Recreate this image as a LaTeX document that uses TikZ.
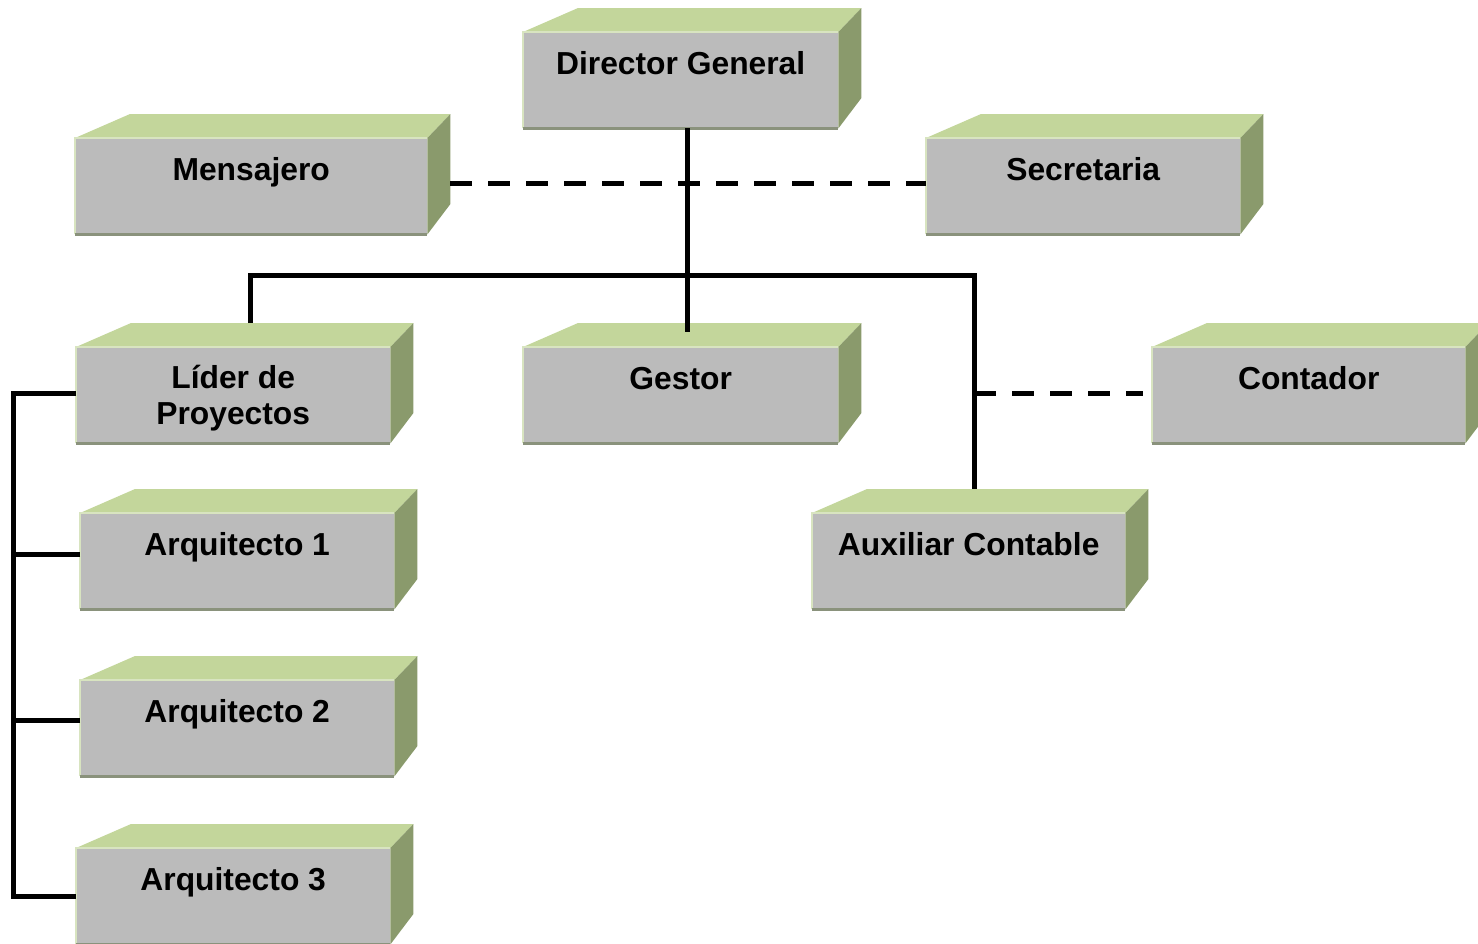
\documentclass[tikz,border=0pt]{standalone}
\usepackage{fontspec}
\setmainfont{Liberation Sans}
\usetikzlibrary{calc}

\definecolor{frontgray}{RGB}{187,187,187}
\definecolor{topgreen}{RGB}{195,214,155}
\definecolor{sideolive}{RGB}{138,154,108}
\definecolor{edgelight}{RGB}{216,228,192}
\definecolor{edgedark}{RGB}{138,146,124}

\tikzset{
  front/.style={rectangle, fill=frontgray, draw=none, inner sep=0pt, minimum height=96pt},
  topface/.style={fill=topgreen},
  sideface/.style={fill=sideolive},
  hiedge/.style={draw=edgelight, line width=1.5pt},
  loedge/.style={draw=edgedark, line width=2.5pt},
  lbl/.style={font=\bfseries\fontsize{31.8}{36}\selectfont, align=center, inner sep=0pt},
  conn/.style={line width=5pt, black},
  dashconn/.style={conn, dash pattern=on 22pt off 16pt}
}

% \orgbox[baseline drop of last text line]{name}{x}{y}{width}{text}:
% a 3D block whose front face has its top left corner at (x,y)
\newcommand\orgbox[6][42]{%
  \node[front, minimum width=#5pt, anchor=north west] (#2) at (#3,#4) {};
  \fill[topface] (#2.north west) -- ++(55,-24) -- ([shift={(23,-24)}]#2.north east) -- (#2.north east) -- cycle;
  \fill[sideface] (#2.north east) -- ++(23,-24) -- ++(0,90) -- (#2.south east) -- cycle;
  \draw[hiedge] (#2.south west) -- (#2.north west) -- (#2.north east);
  \draw[loedge] (#2.south west) -- (#2.south east);
  \node[lbl, anchor=base] (#2-t) at ([yshift=-#1pt]#2.north) {#6};
}

\begin{document}
\begin{tikzpicture}[x=1pt, y=-1pt]
\useasboundingbox (0,0) rectangle (1478,943);

% blocks
\orgbox{dg}{523}{32}{315}{Director General}
\orgbox{men}{75}{138}{352}{Mensajero}
\orgbox{sec}{926}{138}{314}{Secretaria}
\orgbox[77]{lid}{76}{347}{314}{Líder de\\Proyectos}
\orgbox{ges}{523}{347}{315}{Gestor}
\orgbox{con}{1152}{347}{313}{Contador}
\orgbox{ar1}{80}{513}{314}{Arquitecto 1}
\orgbox{aux}{812}{513}{313}{Auxiliar Contable}
\orgbox{ar2}{80}{680}{314}{Arquitecto 2}
\orgbox{ar3}{76}{848}{314}{Arquitecto 3}

% staff lines
\draw[dashconn] ([xshift=23pt, yshift=3pt]men.east) -- ([yshift=3pt]sec.west);

% main hierarchy
\coordinate (hub) at ([xshift=6.5pt]dg.south |- 0,275);
\draw[conn] ([xshift=6.5pt]dg.south) -- ([xshift=6.5pt, yshift=15pt]ges.north);
\draw[conn] ([xshift=17pt, yshift=24pt]lid.north) |- (hub) -| ([xshift=5.5pt, yshift=24pt]aux.north);

% accountant link
\coordinate (acc) at ([xshift=5.5pt]aux.north |- con.west);
\draw[dashconn] ([yshift=2pt]acc) -- ([xshift=-9pt, yshift=2pt]con.west);

% project team
\draw[conn] ([yshift=2pt]lid.west) -- ++(-63,0) |- (ar3.west);
\draw[conn] ([yshift=7pt]ar1.west) -- ++(-67,0);
\draw[conn] ([yshift=8pt]ar2.west) -- ++(-67,0);
\end{tikzpicture}
\end{document}
